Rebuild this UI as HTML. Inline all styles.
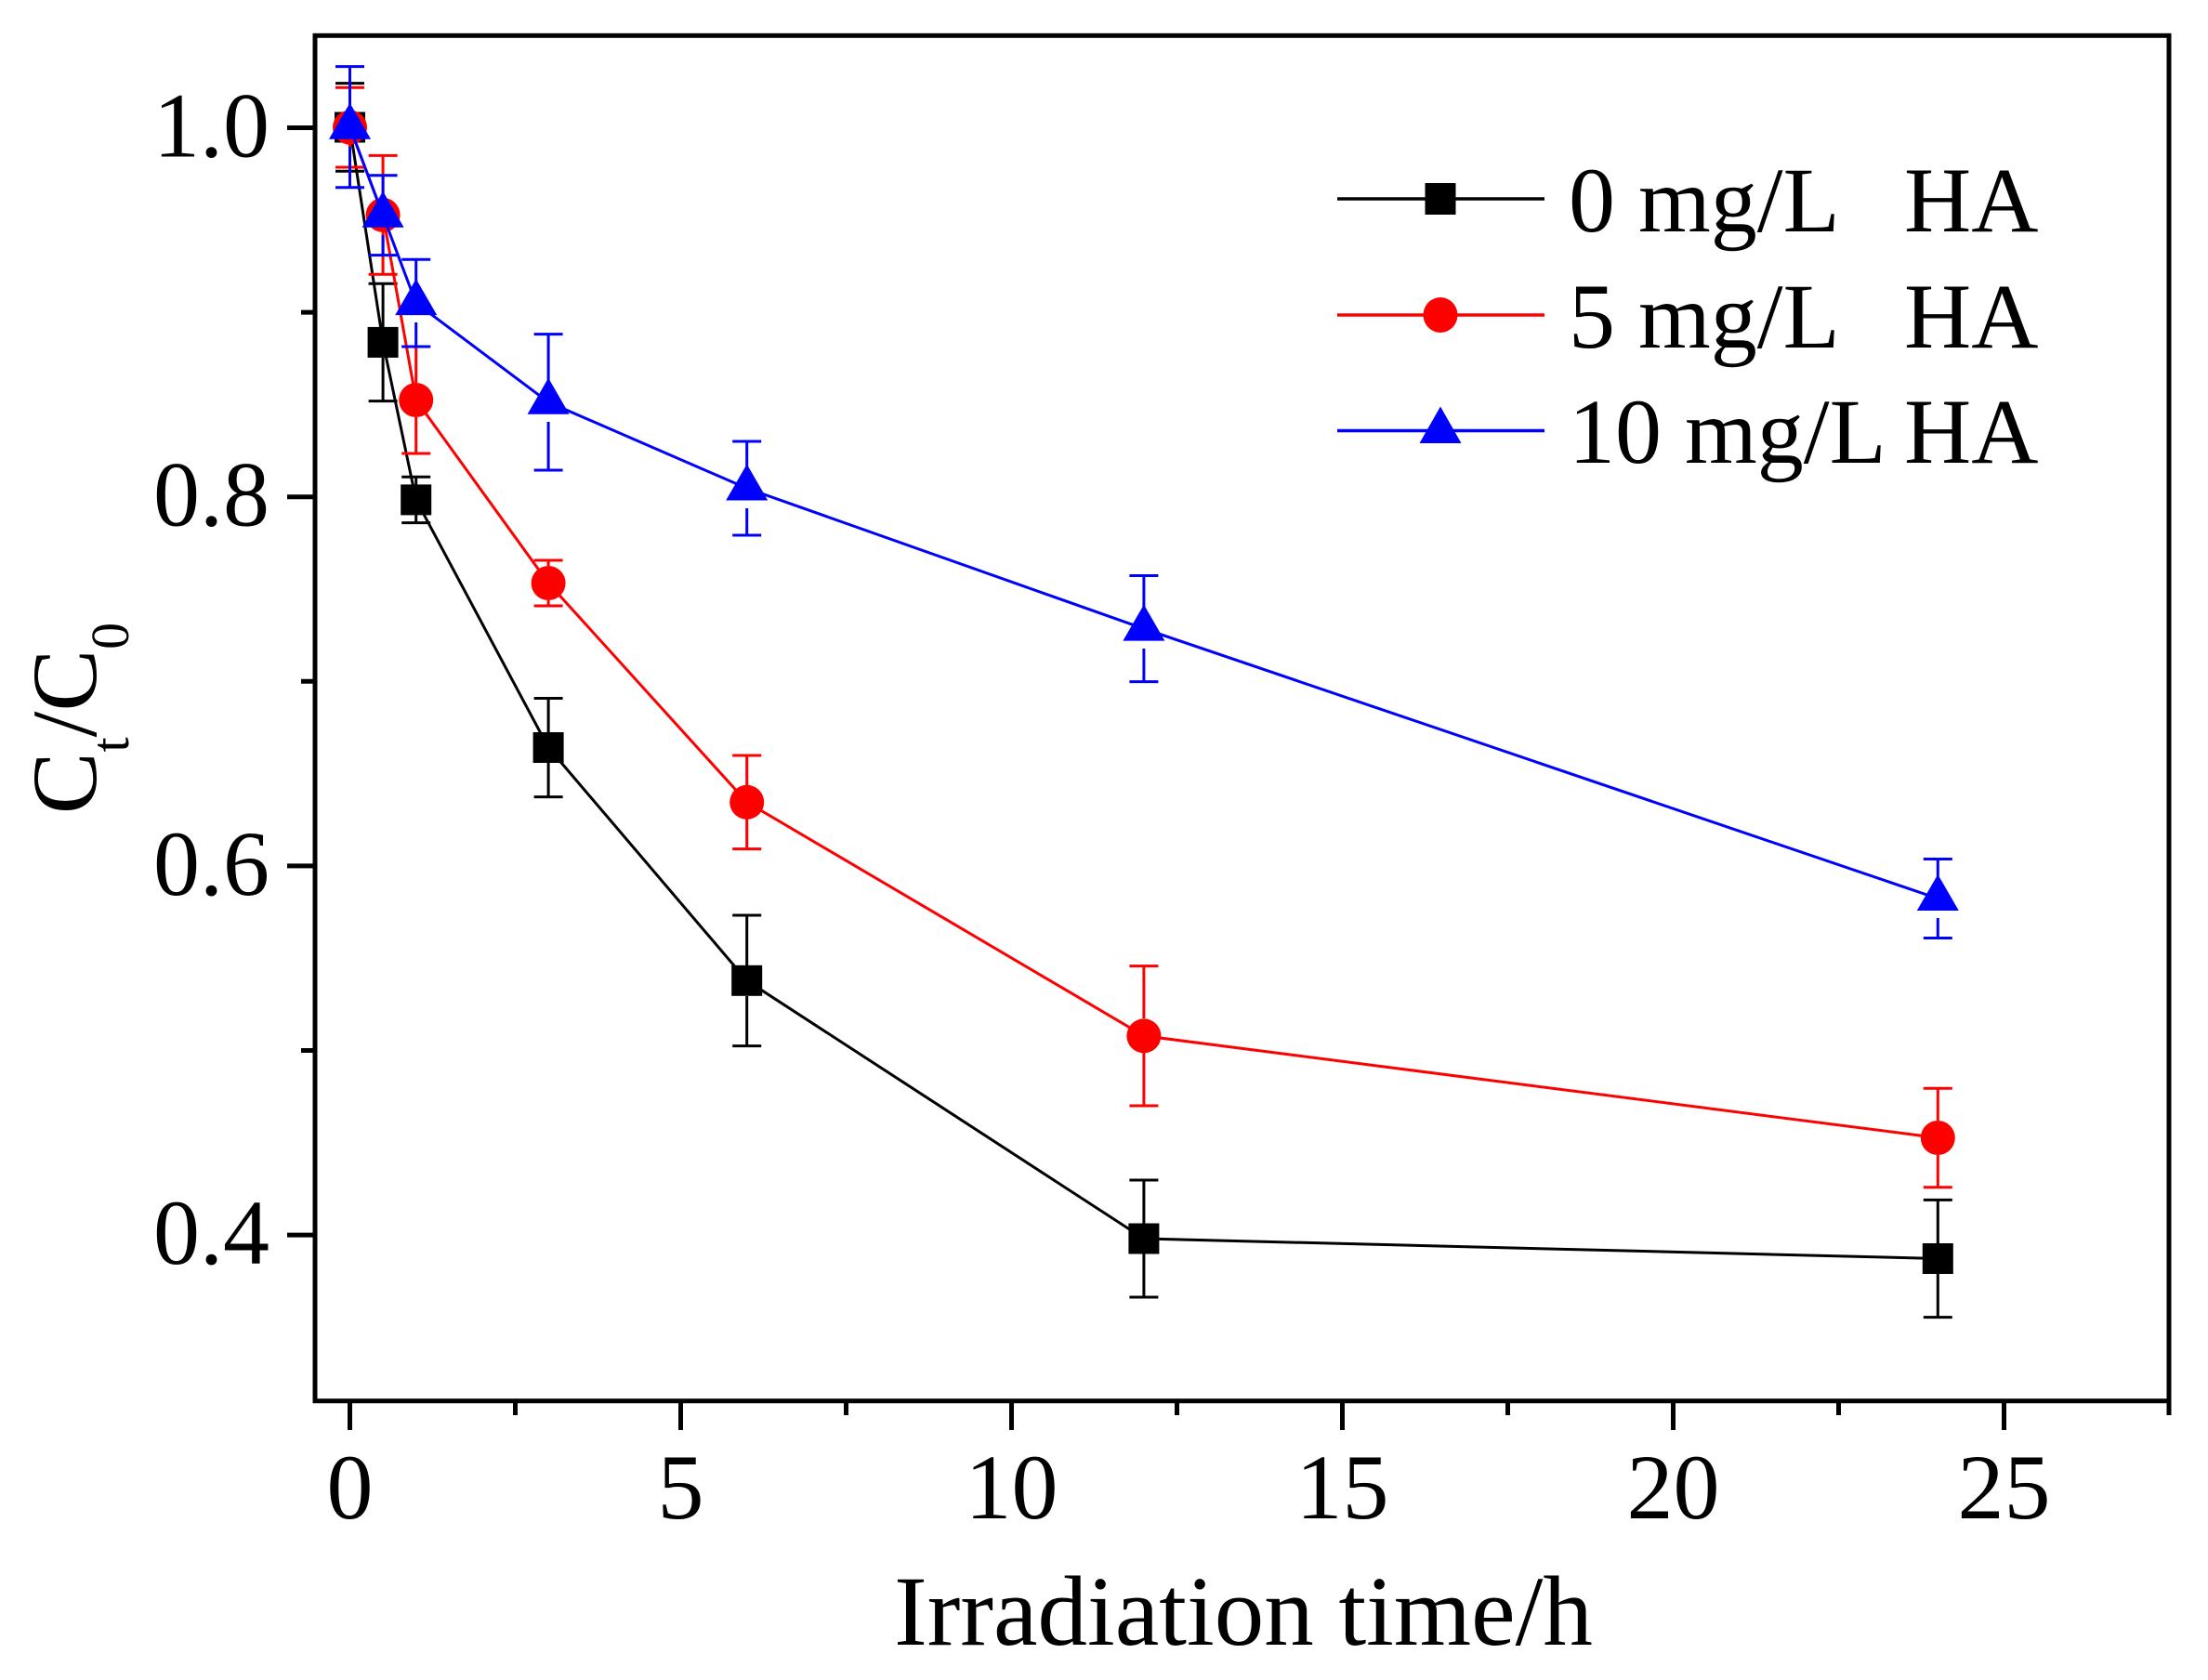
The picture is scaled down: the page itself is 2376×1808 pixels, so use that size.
<!DOCTYPE html>
<html>
<head>
<meta charset="utf-8">
<style>
html,body{margin:0;padding:0;background:#fff;}
svg{display:block;}
text{font-family:"Liberation Serif","Times New Roman",serif;fill:#000;}
</style>
</head>
<body>
<svg width="2376" height="1808" viewBox="0 0 2376 1808" xmlns="http://www.w3.org/2000/svg">
<rect width="2376" height="1808" fill="#fff"/>

<!-- ===== Black series (0 mg/L) ===== -->
<g stroke="#000" stroke-width="3" fill="none">
  <path d="M376.5 89.6V121 M361 89.6H392 M376.5 153V184.2 M361 184.2H392"/>
  <path d="M412.1 305.2V352 M396.6 305.2H427.6 M412.1 385V431.6 M396.6 431.6H427.6"/>
  <path d="M447.7 513.2V522 M432.2 513.2H463.2 M447.7 554V562.6 M432.2 562.6H463.2"/>
  <path d="M590.1 751.5V788 M574.6 751.5H605.6 M590.1 821V857.6 M574.6 857.6H605.6"/>
  <path d="M803.7 985V1039 M788.2 985H819.2 M803.7 1072V1125.6 M788.2 1125.6H819.2"/>
  <path d="M1230.9 1270V1317 M1215.4 1270H1246.4 M1230.9 1349V1396 M1215.4 1396H1246.4"/>
  <path d="M2085.3 1291.4V1338 M2069.8 1291.4H2100.8 M2085.3 1371V1417.6 M2069.8 1417.6H2100.8"/>
  <polyline points="376.5,137 412.1,368.4 447.7,537.9 590.1,804.5 803.7,1055.3 1230.9,1333 2085.3,1354.5"/>
</g>
<g fill="#000">
  <rect x="360" y="120.5" width="33" height="33"/>
  <rect x="395.6" y="351.9" width="33" height="33"/>
  <rect x="431.2" y="521.4" width="33" height="33"/>
  <rect x="573.6" y="788" width="33" height="33"/>
  <rect x="787.2" y="1038.8" width="33" height="33"/>
  <rect x="1214.4" y="1316.5" width="33" height="33"/>
  <rect x="2068.8" y="1338" width="33" height="33"/>
</g>

<!-- ===== Red series (5 mg/L) ===== -->
<g stroke="#f00" stroke-width="3" fill="none">
  <path d="M376.5 94.2V119 M361 94.2H392 M376.5 155V180 M361 180H392"/>
  <path d="M412.1 167.4V213 M396.6 167.4H427.6 M412.1 249V295.3 M396.6 295.3H427.6"/>
  <path d="M447.7 373V412 M432.2 373H463.2 M447.7 449V488 M432.2 488H463.2"/>
  <path d="M590.1 603V609 M574.6 603H605.6 M590.1 646V652 M574.6 652H605.6"/>
  <path d="M803.7 813V845 M788.2 813H819.2 M803.7 881V913.6 M788.2 913.6H819.2"/>
  <path d="M1230.9 1039.6V1096 M1215.4 1039.6H1246.4 M1230.9 1133V1190 M1215.4 1190H1246.4"/>
  <path d="M2085.3 1171.3V1206 M2069.8 1171.3H2100.8 M2085.3 1243V1277.7 M2069.8 1277.7H2100.8"/>
  <polyline points="376.5,137.1 412.1,231.4 447.7,430.5 590.1,627.5 803.7,863.3 1230.9,1114.8 2085.3,1224.5"/>
</g>
<g fill="#f00">
  <circle cx="376.5" cy="137.1" r="18.5"/>
  <circle cx="412.1" cy="231.4" r="18.5"/>
  <circle cx="447.7" cy="430.5" r="18.5"/>
  <circle cx="590.1" cy="627.5" r="18.5"/>
  <circle cx="803.7" cy="863.3" r="18.5"/>
  <circle cx="1230.9" cy="1114.8" r="18.5"/>
  <circle cx="2085.3" cy="1224.5" r="18.5"/>
</g>

<!-- ===== Blue series (10 mg/L) ===== -->
<g stroke="#00f" stroke-width="3" fill="none">
  <path d="M376.5 71.6V120 M361 71.6H392 M376.5 158V201.8 M361 201.8H392"/>
  <path d="M412.1 188.8V215 M396.6 188.8H427.6 M412.1 253V274.6 M396.6 274.6H427.6"/>
  <path d="M447.7 279.2V310 M432.2 279.2H463.2 M447.7 347V373 M432.2 373H463.2"/>
  <path d="M590.1 359.6V416 M574.6 359.6H605.6 M590.1 454V506 M574.6 506H605.6"/>
  <path d="M803.7 475V509 M788.2 475H819.2 M803.7 547V576 M788.2 576H819.2"/>
  <path d="M1230.9 619.5V660 M1215.4 619.5H1246.4 M1230.9 698V733.6 M1215.4 733.6H1246.4"/>
  <path d="M2085.3 924.5V950 M2069.8 924.5H2100.8 M2085.3 988V1009.5 M2069.8 1009.5H2100.8"/>
  <polyline points="376.5,136.7 412.1,231.7 447.7,326.1 590.1,432.8 803.7,525.5 1230.9,676.6 2085.3,967"/>
</g>
<g fill="#00f">
  <polygon points="376.5,110.7 399,149.7 354,149.7"/>
  <polygon points="412.1,205.7 434.6,244.7 389.6,244.7"/>
  <polygon points="447.7,300.1 470.2,339.1 425.2,339.1"/>
  <polygon points="590.1,406.8 612.6,445.8 567.6,445.8"/>
  <polygon points="803.7,499.5 826.2,538.5 781.2,538.5"/>
  <polygon points="1230.9,650.6 1253.4,689.6 1208.4,689.6"/>
  <polygon points="2085.3,941 2107.8,980 2062.8,980"/>
</g>

<!-- ===== Axes frame ===== -->
<rect x="339" y="38.3" width="1995" height="1469.4" fill="none" stroke="#000" stroke-width="5"/>

<g stroke="#000" stroke-width="5">
  <path d="M376.5 1507.7V1539 M732.5 1507.7V1539 M1088.5 1507.7V1539 M1444.5 1507.7V1539 M1800.5 1507.7V1539 M2156.5 1507.7V1539"/>
  <path d="M554.5 1507.7V1523 M910.5 1507.7V1523 M1266.5 1507.7V1523 M1622.5 1507.7V1523 M1978.5 1507.7V1523 M2334 1507.7V1523"/>
  <path d="M339 137.5H309 M339 534.7H309 M339 931.9H309 M339 1329.1H309"/>
  <path d="M339 336.1H324 M339 733.3H324 M339 1130.5H324"/>
</g>

<g font-size="100" text-anchor="middle">
  <text x="376.5" y="1634">0</text>
  <text x="732.5" y="1634">5</text>
  <text x="1088.5" y="1634">10</text>
  <text x="1444.5" y="1634">15</text>
  <text x="1800.5" y="1634">20</text>
  <text x="2156.5" y="1634">25</text>
</g>
<g font-size="100" text-anchor="end">
  <text x="290" y="168.5">1.0</text>
  <text x="290" y="565.7">0.8</text>
  <text x="290" y="962.9">0.6</text>
  <text x="290" y="1360.1">0.4</text>
</g>

<text x="1338" y="1770" font-size="107" text-anchor="middle">Irradiation time/h</text>
<text transform="translate(103,773) rotate(-90)" font-size="100" text-anchor="middle">C<tspan font-size="58" dy="35">t</tspan><tspan font-size="100" dy="-35">/C</tspan><tspan font-size="58" dy="35">0</tspan></text>

<!-- ===== Legend ===== -->
<g stroke-width="3.4">
  <line x1="1439" y1="214" x2="1662" y2="214" stroke="#000"/>
  <line x1="1439" y1="339" x2="1662" y2="339" stroke="#f00"/>
  <line x1="1439" y1="463.5" x2="1662" y2="463.5" stroke="#00f"/>
</g>
<rect x="1533.5" y="197" width="33" height="34" fill="#000"/>
<ellipse cx="1550" cy="339" rx="18.5" ry="19" fill="#f00"/>
<polygon points="1550,437.5 1572.5,477 1527.5,477" fill="#00f"/>
<g font-size="100">
  <text x="1688" y="249">0 mg/L</text>
  <text x="2049" y="249">HA</text>
  <text x="1688" y="374">5 mg/L</text>
  <text x="2049" y="374">HA</text>
  <text x="1688" y="498">10 mg/L</text>
  <text x="2049" y="498">HA</text>
</g>
</svg>
</body>
</html>
